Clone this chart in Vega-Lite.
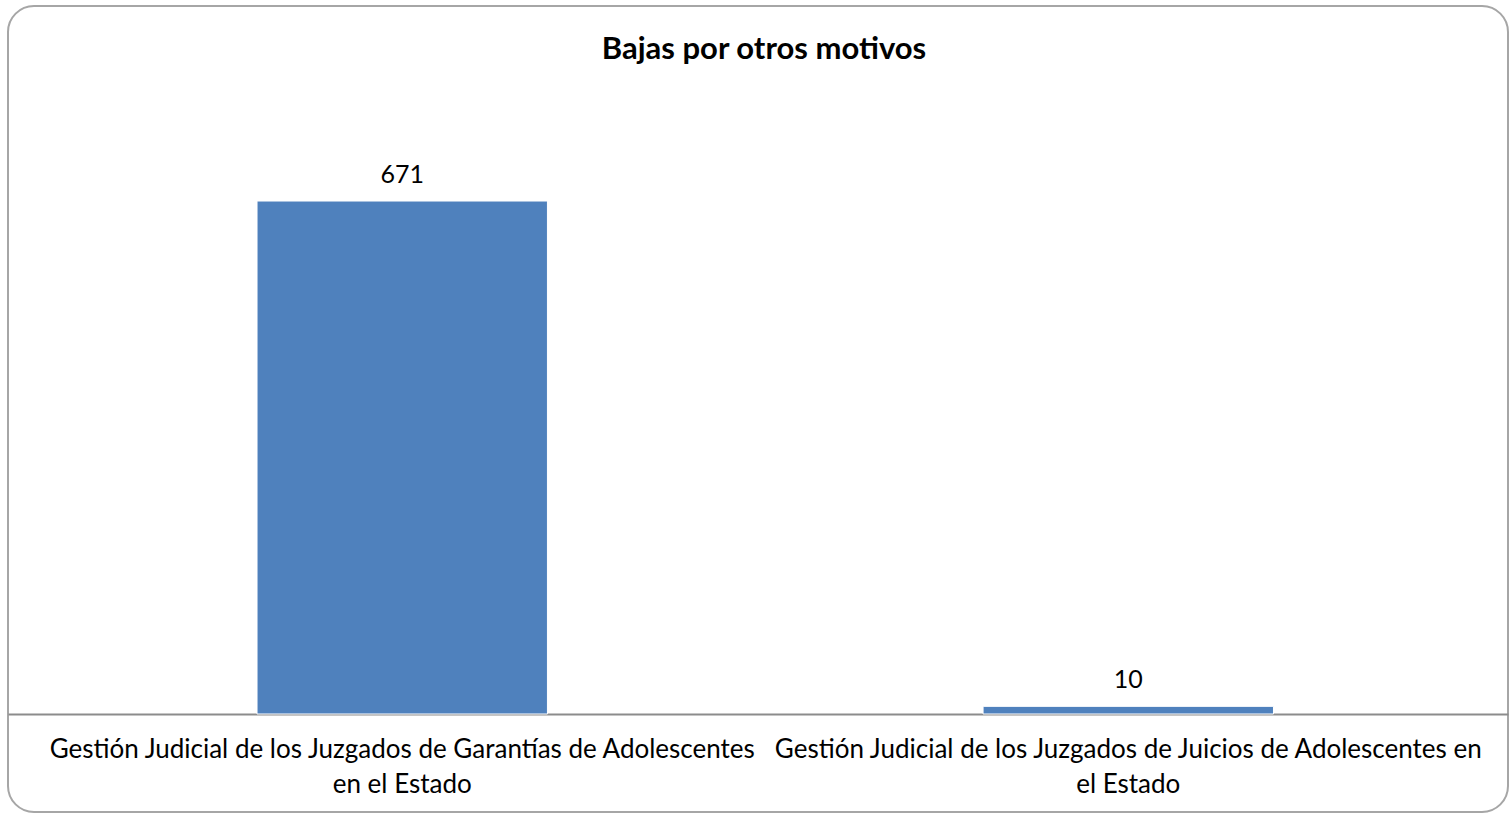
{
  "$schema": "https://vega.github.io/schema/vega-lite/v6.json",
  "autosize": {"type": "none"},
  "padding": {"left": 8, "top": 6, "right": 3, "bottom": 2},
  "width": 1500,
  "height": 806,
  "background": "white",
  "config": {
    "view": {"stroke": "#a6a6a6", "strokeWidth": 2, "cornerRadius": 26},
    "font": "Lato"
  },
  "title": {
    "text": "Bajas por otros motivos",
    "font": "Lato",
    "fontSize": 31,
    "fontWeight": "bold",
    "color": "#000000",
    "anchor": "middle",
    "offset": -60,
    "dx": 6
  },
  "data": {
    "values": [
      {"unidad": "Gestión Judicial de los Juzgados de Garantías de Adolescentes en el Estado", "bajas": 671},
      {"unidad": "Gestión Judicial de los Juzgados de Juicios de Adolescentes en el Estado", "bajas": 10}
    ]
  },
  "encoding": {
    "x": {
      "field": "unidad",
      "type": "nominal",
      "sort": null,
      "scale": {"paddingInner": 0.6, "paddingOuter": 0.333, "align": 0.515},
      "axis": {
        "title": null,
        "orient": "bottom",
        "offset": -98,
        "labelAngle": 0,
        "ticks": false,
        "domainColor": "#8c8c8c",
        "domainWidth": 2,
        "labelFont": "Lato",
        "labelFontSize": 26,
        "labelColor": "#000000",
        "labelPadding": 22,
        "labelLineHeight": 35,
        "labelLimit": 0,
        "labelExpr": "datum.label == 'Gestión Judicial de los Juzgados de Garantías de Adolescentes en el Estado' ? ['Gestión Judicial de los Juzgados de Garantías de Adolescentes', 'en el Estado'] : ['Gestión Judicial de los Juzgados de Juicios de Adolescentes en', 'el Estado']"
      }
    },
    "y": {
      "field": "bajas",
      "type": "quantitative",
      "scale": {"domain": [-128.2, 926.1], "nice": false, "zero": false},
      "axis": null
    }
  },
  "layer": [
    {
      "mark": {"type": "bar", "color": "#4f81bd", "stroke": "#ffffff", "strokeWidth": 1, "y2": {"expr": "scale('y', 0)"}}
    },
    {
      "mark": {"type": "text", "baseline": "bottom", "dy": -13, "fontSize": 25, "font": "Lato", "color": "#000000"},
      "encoding": {"text": {"field": "bajas", "type": "quantitative"}}
    }
  ]
}
